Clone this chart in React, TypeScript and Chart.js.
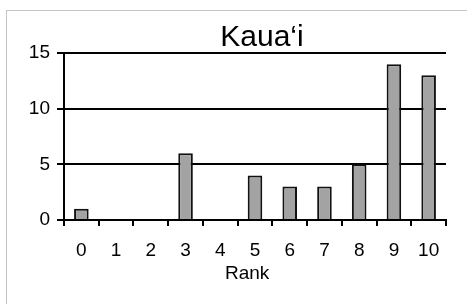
import React, { useEffect, useRef } from "react";
import { Chart, registerables } from "chart.js";

Chart.register(...registerables);

const categories = ["0", "1", "2", "3", "4", "5", "6", "7", "8", "9", "10"];
const counts = [1, 0, 0, 6, 0, 4, 3, 3, 5, 14, 13];
const yTicks = [0, 5, 10, 15];
const titleText = "Kaua\u2018i";
const xTitle = "Rank";

const FONT = "'Liberation Sans', Arial, sans-serif";

const framePlugin = {
  id: "frame",
  afterLayout(chart: any) {
    if (chart.titleBlock) {
      chart.titleBlock.left = 57;
      chart.titleBlock.right = 467;
    }
  },
  beforeDraw(chart: any) {
    const ctx = chart.ctx;
    ctx.save();
    ctx.strokeStyle = "#c4c4c4";
    ctx.lineWidth = 1;
    ctx.strokeRect(6.5, 10.5, 480, 320);
    ctx.restore();
  },
};

export default function App() {
  const ref = useRef<HTMLCanvasElement | null>(null);
  useEffect(() => {
    const canvas = ref.current!;
    const chart = new Chart(canvas, {
      type: "bar",
      data: {
        labels: categories,
        datasets: [
          {
            data: counts,
            backgroundColor: "#a3a3a3",
            borderColor: "#111111",
            borderWidth: 2,
            borderSkipped: "bottom",
            categoryPercentage: 1,
            barPercentage: 0.42,
          },
        ],
      },
      options: {
        responsive: false,
        animation: false,
        devicePixelRatio: 1,
        layout: { padding: { left: 0, right: 21, top: 23, bottom: 21 } },
        plugins: {
          legend: { display: false },
          tooltip: { enabled: false },
          title: {
            display: true,
            text: titleText,
            color: "#000",
            font: { family: FONT, size: 30, weight: "normal", lineHeight: 1 },
            padding: { top: 0, bottom: 0 },
          },
        },
        scales: {
          x: {
            offset: true,
            grid: {
              display: true,
              drawOnChartArea: false,
              drawTicks: true,
              tickLength: 6,
              color: "#000",
              lineWidth: 2,
              offset: true,
            },
            border: { display: true, color: "#000", width: 2 },
            ticks: {
              color: "#000",
              font: { family: FONT, size: 19 },
              padding: 13,
              maxRotation: 0,
              autoSkip: false,
            },
            title: {
              display: true,
              text: xTitle + "   ",
              color: "#000",
              font: { family: FONT, size: 19, lineHeight: 1 },
              padding: { top: 4, bottom: 0 },
            },
            afterFit(scale: any) {
              scale.height = 63;
            },
          },
          y: {
            min: 0,
            max: 15,
            afterBuildTicks(scale: any) {
              scale.ticks = yTicks.map((v) => ({ value: v }));
            },
            grid: {
              color: "#000",
              lineWidth: 2,
              drawTicks: true,
              tickLength: 7,
            },
            border: { display: true, color: "#000", width: 2 },
            ticks: {
              color: "#000",
              font: { family: FONT, size: 19 },
              padding: 7,
            },
            afterFit(scale: any) {
              scale.width = 64;
            },
          },
        },
      },
      plugins: [framePlugin],
    } as any);
    return () => chart.destroy();
  }, []);
  return (
    <div style={{ position: "fixed", left: 0, top: 0, width: 467, height: 304, background: "#fff" }}>
      <canvas ref={ref} width={467} height={304} style={{ display: "block" }} />
    </div>
  );
}
